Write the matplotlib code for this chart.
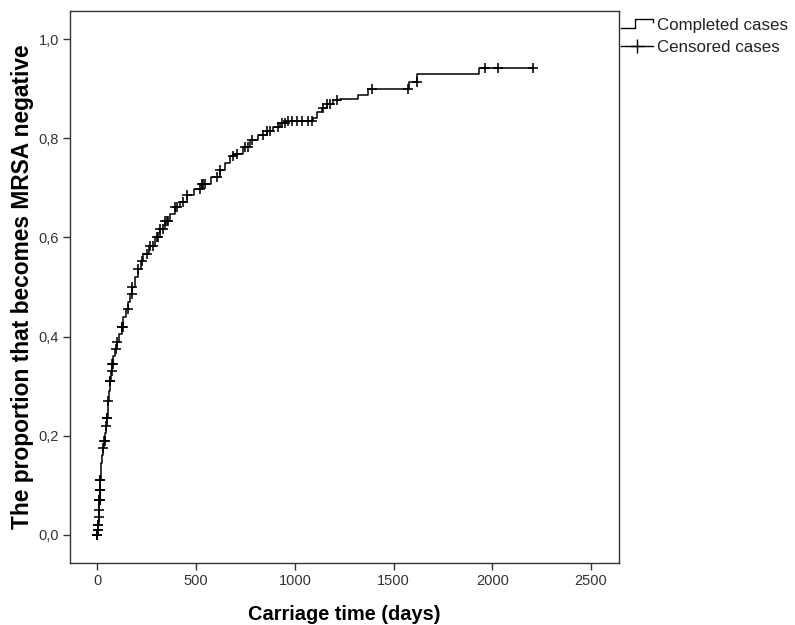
import numpy as np
import matplotlib
matplotlib.use("Agg")
import matplotlib.pyplot as plt
from matplotlib.lines import Line2D
from matplotlib.legend_handler import HandlerBase
from matplotlib.ticker import FuncFormatter

plt.rcParams['font.family'] = ['Liberation Sans', 'DejaVu Sans']

# ---- data ----
event_times = [0, 2, 4, 6, 8, 10, 12, 14, 17, 20, 24, 29, 34, 39, 43, 47, 51, 55, 59, 63,
               68, 74, 81, 89, 98, 110, 122, 132, 145, 157, 166, 174, 190, 207, 220, 232,
               260, 291, 315, 342, 368, 393, 420, 452, 490, 528, 575, 620, 645, 671, 697,
               735, 773, 815, 857, 890, 925, 960, 1093, 1110, 1135, 1161, 1195, 1228, 1321,
               1372, 1576, 1621, 1934]
cum_prop = [0.0, 0.01, 0.02, 0.035, 0.05, 0.07, 0.09, 0.11, 0.13, 0.145, 0.16, 0.175, 0.19,
            0.205, 0.22, 0.235, 0.25, 0.27, 0.29, 0.31, 0.33, 0.345, 0.36, 0.375, 0.39, 0.405,
            0.42, 0.44, 0.455, 0.47, 0.485, 0.50, 0.52, 0.537, 0.552, 0.567, 0.582, 0.601,
            0.618, 0.634, 0.648, 0.661, 0.672, 0.685, 0.697, 0.708, 0.722, 0.737, 0.751,
            0.764, 0.769, 0.783, 0.797, 0.806, 0.815, 0.823, 0.830, 0.836, 0.842, 0.853,
            0.862, 0.870, 0.877, 0.880, 0.887, 0.900, 0.914, 0.929, 0.942]
censor_times = [0, 0, 0, 2, 3, 4, 5, 6, 9, 10, 10, 11, 11, 12, 12, 13, 14, 15, 29, 35, 37,
                45, 47, 49, 55, 63, 66, 72, 75, 80, 96, 99, 122, 126, 131, 156, 173, 177,
                207, 224, 249, 266, 283, 300, 308, 317, 334, 342, 350, 359, 393, 401, 435,
                452, 519, 528, 536, 545, 604, 620,
                688, 705, 747, 764, 781, 840, 857, 874, 916, 933, 950, 967, 984, 1009, 1035,
                1068, 1085, 1144, 1161, 1178, 1212,
                1389, 1575, 1617, 1963, 2027, 2208]
x_ticks = [0, 500, 1000, 1500, 2000, 2500]
y_ticks = [0.0, 0.2, 0.4, 0.6, 0.8, 1.0]
legend_labels = ["Completed cases", "Censored cases"]

# ---- figure ----
fig = plt.figure(figsize=(7.95, 6.25), dpi=100)
ax = fig.add_axes([70/795, 1-563/625, (619-70)/795, (563-11)/625])

et = np.array(event_times, dtype=float)
cp = np.array(cum_prop, dtype=float)
ct = np.array(censor_times, dtype=float)
end_t = ct.max()
ax.step(np.append(et, end_t), np.append(cp, cp[-1]), where='post',
        color='black', lw=1.1, zorder=3)
idx = np.searchsorted(et, ct, side='right') - 1
ax.plot(ct, cp[idx], linestyle='none', marker='+', color='black',
        markersize=6.8, markeredgewidth=1.15, zorder=4)

ax.set_xlim(-139, 2642)
ax.set_ylim(-0.057, 1.057)
ax.set_xticks(x_ticks)
ax.set_yticks(y_ticks)
ax.yaxis.set_major_formatter(FuncFormatter(lambda v, p: f"{v:.1f}".replace('.', ',')))
ax.tick_params(direction='out', length=5, width=1, colors='#333333',
               labelsize=10.5, labelcolor='#333333', pad=3)
for s in ax.spines.values():
    s.set_color('#333333')
    s.set_linewidth(1.0)

ax.set_xlabel("Carriage time (days)", fontsize=14.4, fontweight='bold', labelpad=12)
ax.set_ylabel("The proportion that becomes MRSA negative", fontsize=16.4,
              fontweight='bold', labelpad=3)


class StepHandler(HandlerBase):
    def create_artists(self, legend, orig_handle, xdescent, ydescent, width, height,
                       fontsize, trans):
        x0, x1 = -xdescent, -xdescent + width
        lo = -ydescent + 0.2 * height
        hi = -ydescent + 0.95 * height
        mid = -ydescent + 0.7 * height
        xm = x0 + 0.45 * width
        xs = [x0, xm, xm, x1, x1]
        ys = [lo, lo, hi, hi, mid]
        l = Line2D(xs, ys, color='black', lw=1.0, transform=trans)
        return [l]


class CensorHandler(HandlerBase):
    def create_artists(self, legend, orig_handle, xdescent, ydescent, width, height,
                       fontsize, trans):
        x0, x1 = -xdescent, -xdescent + width
        yc = -ydescent + 0.5 * height
        l = Line2D([x0, x1], [yc, yc], color='black', lw=1.0, transform=trans)
        m = Line2D([x0 + 0.5 * width], [yc], marker='+', markersize=10,
                   markeredgewidth=1.0, color='black', linestyle='none', transform=trans)
        return [l, m]


h1 = Line2D([], [])
h2 = Line2D([], [], marker='+')
leg = fig.legend([h1, h2], legend_labels, loc='upper left',
                 bbox_to_anchor=(621/795, 1-18/625), frameon=False, fontsize=12.2,
                 handlelength=1.9, handletextpad=0.25, labelspacing=0.42, borderpad=0,
                 borderaxespad=0,
                 handler_map={h1: StepHandler(), h2: CensorHandler()})
for t in leg.get_texts():
    t.set_color('#222222')

fig.savefig("out.png", dpi=100)
